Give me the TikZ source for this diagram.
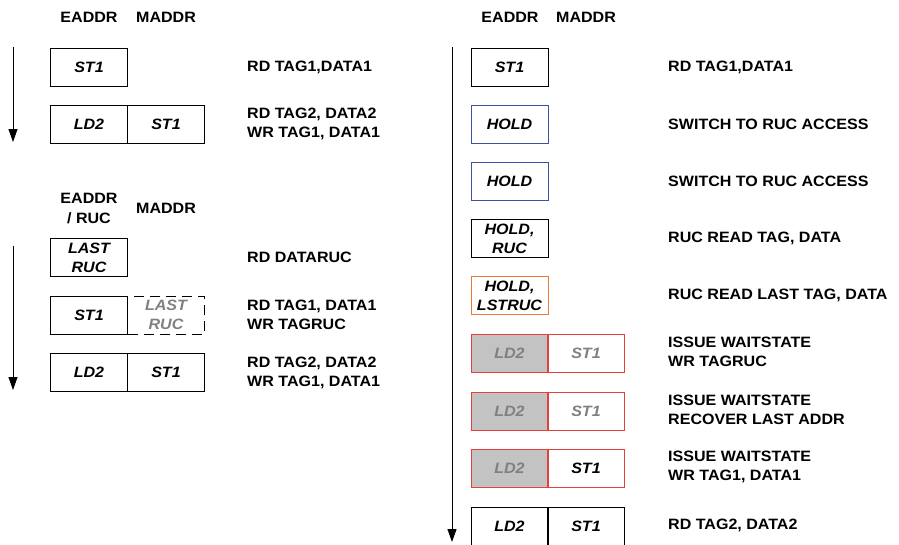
\documentclass[tikz,border=0pt]{standalone}
\usepackage{fontspec}
\setmainfont{Liberation Sans}[FakeStretch=1.07]
\usetikzlibrary{arrows.meta,positioning}
\definecolor{cBlue}{HTML}{3F51A3}
\definecolor{cOrange}{HTML}{EC7A3A}
\definecolor{cRed}{HTML}{E5413A}
\definecolor{cFill}{HTML}{C3C3C3}
\definecolor{cText}{HTML}{808080}
\tikzset{
  >={Triangle[length=13pt,width=9pt]},
  cell/.style ={rectangle,draw,line width=1pt,minimum width=77pt,minimum height=38pt,inner sep=0pt,align=center,font={\fontsize{15}{19}\selectfont\bfseries\itshape}},
  note/.style ={anchor=west,align=left,inner sep=0pt,font={\fontsize{15}{19}\selectfont\bfseries}},
  head/.style ={align=center,inner sep=0pt,font={\fontsize{15}{20}\selectfont\bfseries}},
  flow/.style ={->,line width=1pt},
}
\begin{document}
\begin{tikzpicture}[x=1pt,y=-1pt,
    hold/.style={cell,draw=cBlue},
    last/.style={cell,draw=cOrange},
    wait/.style={cell,draw=cRed,text=cText}]
  \clip (0,0) rectangle (899,544);

  % left, first sequence
  \node[head] (ha1) at (89,17)  {EADDR};
  \node[head] (hm1) at (166,17) {MADDR};
  \coordinate (a1s) at (13,47);
  \coordinate (a1e) at (13,142);
  \draw[flow] (a1s) -- (a1e);
  \node[cell] (e11) at (89,67)   {ST1};
  \node[cell] (e12) at (89,124)  {LD2};
  \node[cell] (m12) at (166,124) {ST1};
  \node[note] (n11) at (247,67)  {RD TAG1,DATA1};
  \node[note] (n12) at (247,124) {RD TAG2, DATA2\\WR TAG1, DATA1};

  % left, second sequence
  \node[head] (ha2) at (89,208)  {EADDR\\/ RUC};
  \node[head] (hm2) at (166,208) {MADDR};
  \coordinate (a2s) at (13,246);
  \coordinate (a2e) at (13,390);
  \draw[flow] (a2s) -- (a2e);
  \node[cell] (e21) at (89,257.5) {LAST\\RUC};
  \node[cell,dashed,dash pattern=on 10pt off 6pt,text=cText] (m22) at (166,315) {LAST\\RUC};
  \node[cell] (e22) at (89,315)   {ST1};
  \node[cell] (e23) at (89,372.5) {LD2};
  \node[cell] (m23) at (166,372.5){ST1};
  \node[note] (n21) at (247,257.5) {RD DATARUC};
  \node[note] (n22) at (247,315)   {RD TAG1, DATA1\\WR TAGRUC};
  \node[note] (n23) at (247,372.5) {RD TAG2, DATA2\\WR TAG1, DATA1};

  % right sequence
  \node[head] (ha3) at (510,17) {EADDR};
  \node[head] (hm3) at (586,17) {MADDR};
  \coordinate (a3s) at (452,47);
  \coordinate (a3e) at (452,542);
  \draw[flow] (a3s) -- (a3e);
  \node[cell] (r1)  at (509.5,67)    {ST1};
  \node[hold] (r2)  at (509.5,124)   {HOLD};
  \node[hold] (r3)  at (509.5,181)   {HOLD};
  \node[cell] (r4)  at (509.5,238.5) {HOLD,\\RUC};
  \node[last] (r5)  at (509.5,295.5) {HOLD,\\LSTRUC};
  \node[wait,fill=cFill] (r6) at (509.5,353) {LD2};
  \node[wait]            (s6) at (586,353)   {ST1};
  \node[wait,fill=cFill] (r7) at (509.5,411) {LD2};
  \node[wait]            (s7) at (586,411)   {ST1};
  \node[wait,fill=cFill] (r8) at (509.5,468) {LD2};
  \node[wait,text=black] (s8) at (586,468)   {ST1};
  \node[cell] (r9)  at (509.5,526) {LD2};
  \node[cell] (s9)  at (586,526)   {ST1};

  \node[note] (q1) at (668,67)    {RD TAG1,DATA1};
  \node[note] (q2) at (668,124)   {SWITCH TO RUC ACCESS};
  \node[note] (q3) at (668,181)   {SWITCH TO RUC ACCESS};
  \node[note] (q4) at (668,238.5) {RUC READ TAG, DATA};
  \node[note] (q5) at (668,295.5) {RUC READ LAST TAG, DATA};
  \node[note] (q6) at (668,352)   {ISSUE WAITSTATE\\WR TAGRUC};
  \node[note] (q7) at (668,410)   {ISSUE WAITSTATE\\RECOVER LAST ADDR};
  \node[note] (q8) at (668,467)   {ISSUE WAITSTATE\\WR TAG1, DATA1};
  \node[note] (q9) at (668,525)   {RD TAG2, DATA2};
\end{tikzpicture}
\end{document}
